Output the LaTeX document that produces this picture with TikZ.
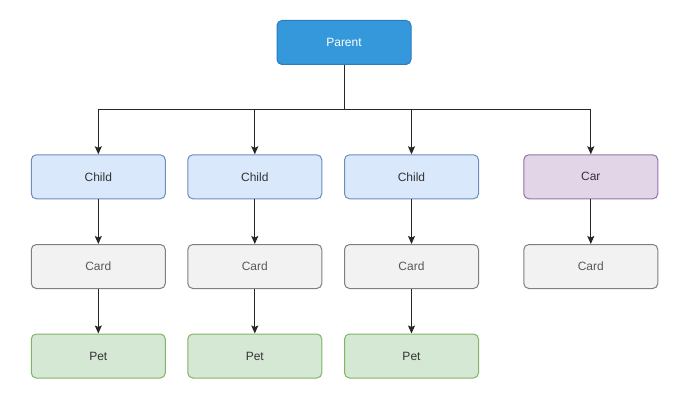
\documentclass[tikz,border=0pt]{standalone}
\usepackage{fontspec}
\setmainfont{Liberation Sans}
\usetikzlibrary{arrows.meta}
\definecolor{pfill}{HTML}{3498DB}
\definecolor{pdraw}{HTML}{2A7BBF}
\definecolor{bfill}{HTML}{DAE8FC}
\definecolor{bdraw}{HTML}{6C8EBF}
\definecolor{gfill}{HTML}{F2F2F2}
\definecolor{gdraw}{HTML}{7F7F7F}
\definecolor{grfill}{HTML}{D5E8D4}
\definecolor{grdraw}{HTML}{82B366}
\definecolor{vfill}{HTML}{E1D5E7}
\definecolor{vdraw}{HTML}{9673A6}
\definecolor{txt}{HTML}{333333}
\tikzset{
  box/.style={rectangle, rounded corners=5pt, minimum width=134pt, minimum height=44pt, line width=1pt, inner sep=0pt, font=\fontsize{12}{14}\selectfont, text=txt},
  parentbox/.style={box, fill=pfill, draw=pdraw, text=white},
  childbox/.style={box, fill=bfill, draw=bdraw},
  cardbox/.style={box, fill=gfill, draw=gdraw, text=black!65},
  petbox/.style={box, fill=grfill, draw=grdraw},
  carbox/.style={box, fill=vfill, draw=vdraw},
  conn/.style={line width=1pt, draw=black!85},
  arr/.style={conn, -{Stealth[length=8pt,width=7pt,inset=1.5pt]}},
}
\begin{document}
\begin{tikzpicture}[x=1pt,y=-1pt]
\useasboundingbox (0,0) rectangle (686,412);
\node[parentbox] (parent) at (344,42.5) {Parent};
\node[childbox] (c1) at (98.3,176.8) {Child};
\node[childbox] (c2) at (254.8,176.8) {Child};
\node[childbox] (c3) at (411.5,176.8) {Child};
\node[carbox] (car) at (590.8,176.8) {Car};
\node[cardbox] (d1) at (98.3,266.5) {Card};
\node[cardbox] (d2) at (254.8,266.5) {Card};
\node[cardbox] (d3) at (411.5,266.5) {Card};
\node[cardbox] (d4) at (590.8,266.5) {Card};
\node[petbox] (p1) at (98.3,356) {Pet};
\node[petbox] (p2) at (254.8,356) {Pet};
\node[petbox] (p3) at (411.5,356) {Pet};
\coordinate (bus) at (344,109.3);
\draw[conn] (parent.south) -- (bus);
\foreach \n in {c1,c2,c3,car}{
  \draw[arr] (bus) -| (\n.north);
}
\foreach \a/\b in {c1/d1,c2/d2,c3/d3,car/d4,d1/p1,d2/p2,d3/p3}{
  \draw[arr] (\a.south) -- (\b.north);
}
\end{tikzpicture}
\end{document}
